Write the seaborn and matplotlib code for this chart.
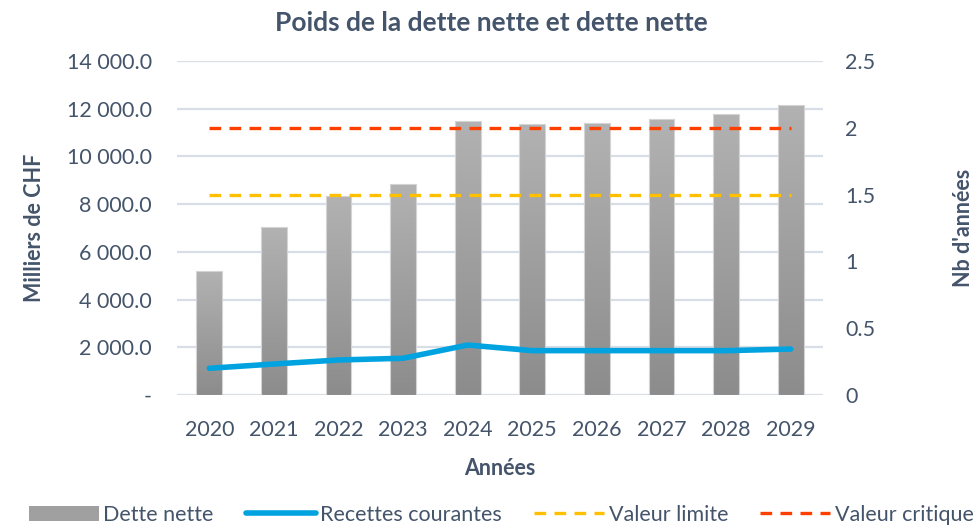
import numpy as np
import pandas as pd
import matplotlib
matplotlib.use("Agg")
import matplotlib.pyplot as plt
from matplotlib.ticker import FuncFormatter, MultipleLocator
from matplotlib.lines import Line2D
from matplotlib.patches import Patch
from matplotlib.colors import LinearSegmentedColormap
import seaborn as sns

years = ["2020", "2021", "2022", "2023", "2024", "2025", "2026", "2027", "2028", "2029"]
dette_nette = [5210, 7040, 8340, 8860, 11500, 11340, 11390, 11550, 11760, 12140]
recettes_courantes = [0.20, 0.232, 0.262, 0.275, 0.374, 0.332, 0.332, 0.332, 0.332, 0.344]
valeur_limite = [1.5] * 10
valeur_critique = [2.0] * 10

TXT = "#44546A"
GRID = "#D9DDE5"
BLUE = "#00A3DF"
YELLOW = "#FFC000"
RED = "#FF3F00"
FS = 15.5

sns.set_theme(style="white")
plt.rcParams["font.family"] = ["Lato", "DejaVu Sans"]

df = pd.DataFrame({"year": years, "dette": dette_nette,
                   "pos": np.arange(len(years)), "rec": recettes_courantes,
                   "lim": valeur_limite, "crit": valeur_critique})

fig = plt.figure(figsize=(9.78, 5.26), dpi=100)
ax = fig.add_axes([177/978, 1-395/526, (823-177)/978, (395-61)/526])

sns.barplot(data=df, x="year", y="dette", color="#A0A0A0", width=0.40,
            ax=ax, zorder=2, edgecolor="#D4D4D4", linewidth=0.8)

# gradient fill for bars
grad = np.linspace(0, 1, 256).reshape(-1, 1)
cmap = LinearSegmentedColormap.from_list("g", ["#8C8C8C", "#B2B2B2"])
for p in list(ax.patches):
    x0, y0 = p.get_x(), p.get_y()
    w, h = p.get_width(), p.get_height()
    im = ax.imshow(grad, extent=[x0, x0 + w, y0, y0 + h], origin="lower",
                   cmap=cmap, aspect="auto", zorder=2.1)
    im.set_clip_path(p)
    p.set_facecolor("none")
    p.set_zorder(2.2)

ax.set_xlim(-0.5, len(years) - 0.5)
ax.set_ylim(0, 14000)
ax.yaxis.set_major_locator(MultipleLocator(2000))

def left_fmt(v, pos):
    if abs(v) < 1e-9:
        return "-"
    return f"{v:,.1f}".replace(",", " ")
ax.yaxis.set_major_formatter(FuncFormatter(left_fmt))
ax.grid(axis="y", color=GRID, linewidth=1.6, zorder=0)
ax.set_axisbelow(True)
for s in ax.spines.values():
    s.set_visible(False)
ax.tick_params(axis="both", length=0, labelsize=FS, colors=TXT)
ax.tick_params(axis="y", pad=18)
ax.tick_params(axis="x", pad=18)
ax.set_xlabel("Années", fontsize=FS, fontweight="bold", color=TXT, labelpad=13)
ax.set_ylabel("Milliers de CHF", fontsize=FS, fontweight="bold", color=TXT, labelpad=16)

ax2 = ax.twinx()
sns.lineplot(data=df, x="pos", y="rec", ax=ax2, color=BLUE, linewidth=4,
             solid_capstyle="round", zorder=3)
sns.lineplot(data=df, x="pos", y="lim", ax=ax2, color=YELLOW, linewidth=2.4,
             zorder=3)
sns.lineplot(data=df, x="pos", y="crit", ax=ax2, color=RED, linewidth=2.4,
             zorder=3)
for l in ax2.lines[1:]:
    l.set_linestyle((0, (3.5, 2.5)))
ax2.set_ylim(0, 2.5)
ax2.set_xlim(-0.5, len(years) - 0.5)
ax2.yaxis.set_major_locator(MultipleLocator(0.5))
ax2.yaxis.set_major_formatter(FuncFormatter(lambda v, p: f"{v:g}"))
for s in ax2.spines.values():
    s.set_visible(False)
ax2.tick_params(axis="y", length=0, labelsize=FS, colors=TXT, pad=16)
ax2.set_ylabel("Nb d'années", fontsize=FS, fontweight="bold", color=TXT,
               labelpad=56, rotation=90)
ax2.set_xlabel("")

fig.text(491/978, 1-23/526, "Poids de la dette nette et dette nette",
         ha="center", va="center", fontsize=19, fontweight="bold", color=TXT)

handles = [
    Patch(facecolor="#A0A0A0", edgecolor="none"),
    Line2D([0], [0], color=BLUE, linewidth=4, solid_capstyle="round"),
    Line2D([0], [0], color=YELLOW, linewidth=2.4, linestyle=(0, (3.5, 2.5))),
    Line2D([0], [0], color=RED, linewidth=2.4, linestyle=(0, (3.5, 2.5))),
]
labels = ["Dette nette", "Recettes courantes", "Valeur limite", "Valeur critique"]
leg = fig.legend(handles, labels, loc="center left", bbox_to_anchor=(29/978, 1-515/526),
                 ncol=4, frameon=False, fontsize=FS, handlelength=3.25,
                 handletextpad=0.2, columnspacing=1.5, labelcolor=TXT,
                 borderaxespad=0, borderpad=0)

fig.savefig("out.png", dpi=100)
